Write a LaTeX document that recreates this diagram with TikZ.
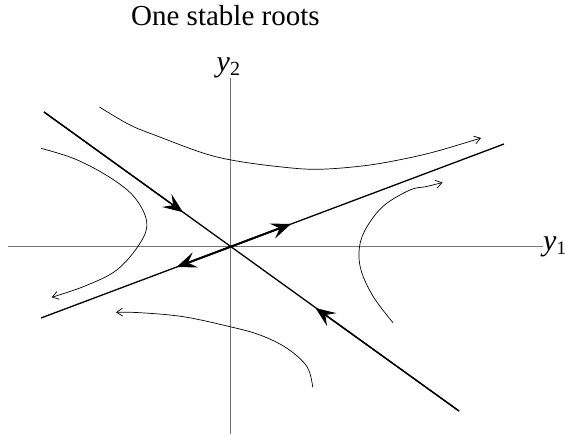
\documentclass[tikz,border=0pt]{standalone}
\usepackage{fontspec}
\setmainfont{Liberation Serif}
\usetikzlibrary{arrows.meta,calc}
\begin{document}
\begin{tikzpicture}[x=1pt,y=-1pt,
  axisline/.style={draw=black!55,line width=1.3pt},
  mainline/.style={draw=black,line width=1.3pt},
  heavyarrow/.style={draw=black,line width=1.3pt,-{Stealth[length=20pt,width=16pt,inset=8pt]}},
  boldseg/.style={draw=black,line width=2pt},
  traj/.style={draw=black,line width=0.7pt},
  trajarrow/.style={traj,-{Straight Barb[length=6pt,width=8pt]}},
  titletext/.style={inner sep=0pt,font=\fontsize{29}{34}\selectfont},
  axislabel/.style={inner sep=0pt,anchor=base west,font=\fontsize{30}{30}\selectfont}
]
\useasboundingbox (0,0) rectangle (565,436);
% title
\node[titletext,anchor=base] (title) at (225.4,26) {One stable roots};
% axes
\coordinate (O) at (230.7,246.7);
\coordinate (xl) at (8,246.7);
\coordinate (xr) at (543,246.7);
\coordinate (yt) at (230.7,78.5);
\coordinate (yb) at (230.7,434);
\draw[axisline] (xl) -- (xr);
\draw[axisline] (yt) -- (yb);
\node[axislabel] (ylab2) at (216.5,71.5) {\itshape y\raisebox{-4.5pt}{\fontsize{20}{20}\selectfont\upshape 2}};
\node[axislabel] (ylab1) at (543,250) {\itshape y\raisebox{-4.5pt}{\fontsize{19}{19}\selectfont\upshape 1}};
% stable eigenline
\coordinate (s1) at (44,112);
\coordinate (s2) at (459,411);
\coordinate (sa1) at (183,212.2);
\coordinate (sa2) at (315.5,308);
\draw[mainline] (s1) -- (s2);
\draw[heavyarrow] (s1) -- (sa1);
\draw[heavyarrow] (s2) -- (sa2);
% unstable eigenline
\coordinate (u1) at (41,318);
\coordinate (u2) at (504,144);
\coordinate (ua1) at (176.7,267);
\coordinate (ua2) at (291,224);
\coordinate (ub1) at ($(O)!0.8!(ua1)$);
\coordinate (ub2) at ($(O)!0.8!(ua2)$);
\draw[mainline] (u1) -- (u2);
\draw[boldseg] (O) -- (ub2);
\draw[boldseg] (O) -- (ub1);
\draw[heavyarrow] (O) -- (ua1);
\draw[heavyarrow] (O) -- (ua2);
% trajectories
\draw[trajarrow] plot[smooth,tension=0.6] coordinates {(99.5,107) (130,125) (159,136.7) (203,153) (235,160.7) (279,166.7) (317,169.3) (362,166) (398.6,160) (435,151.7) (481,138)};
\draw[trajarrow] plot[smooth,tension=0.6] coordinates {(41,148.3) (75,159) (108.7,176.7) (134,196.7) (146.7,221.7) (140,243.3) (116.7,270) (85,286) (51.7,297.3)};
\draw[trajarrow] plot[smooth,tension=0.6] coordinates {(393,322.7) (373.3,296.7) (361,270) (359.5,246.7) (367,226.7) (384,205.5) (410,190) (426.7,186.5) (442.5,182.5)};
\draw[trajarrow] plot[smooth,tension=0.6] coordinates {(312.7,387.3) (307,366.7) (287,348.3) (260,335) (230,326.7) (183.3,316.7) (140,312.7) (116,312.3)};
\end{tikzpicture}
\end{document}
